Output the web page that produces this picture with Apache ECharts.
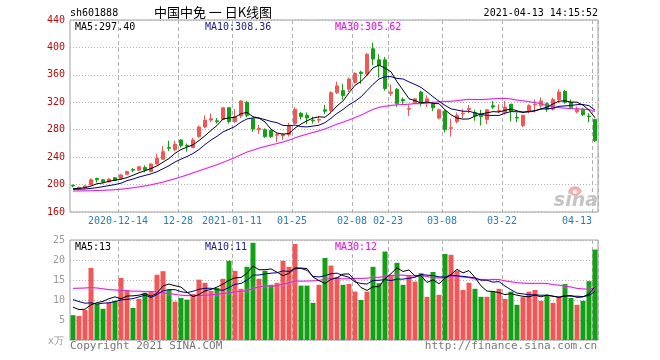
<!DOCTYPE html>
<html><head><meta charset="utf-8">
<script src="https://cdn.jsdelivr.net/npm/echarts@6/dist/echarts.min.js"></script>
<style>html,body{margin:0;padding:0;background:#fff}#c{width:660px;height:360px}</style>
</head><body><div id="c"></div>
<script>
const dates = ['2020-12-02','2020-12-03','2020-12-04','2020-12-07','2020-12-08','2020-12-09','2020-12-10','2020-12-11','2020-12-14','2020-12-15','2020-12-16','2020-12-17','2020-12-18','2020-12-21','2020-12-22','2020-12-23','2020-12-24','2020-12-25','2020-12-28','2020-12-29','2020-12-30','2020-12-31',
'2021-01-04','2021-01-05','2021-01-06','2021-01-07','2021-01-08','2021-01-11','2021-01-12','2021-01-13','2021-01-14','2021-01-15','2021-01-18','2021-01-19','2021-01-20','2021-01-21','2021-01-22','2021-01-25','2021-01-26','2021-01-27','2021-01-28','2021-01-29',
'2021-02-01','2021-02-02','2021-02-03','2021-02-04','2021-02-05','2021-02-08','2021-02-09','2021-02-10','2021-02-18','2021-02-19','2021-02-22','2021-02-23','2021-02-24','2021-02-25','2021-02-26',
'2021-03-01','2021-03-02','2021-03-03','2021-03-04','2021-03-05','2021-03-08','2021-03-09','2021-03-10','2021-03-11','2021-03-12','2021-03-15','2021-03-16','2021-03-17','2021-03-18','2021-03-19','2021-03-22','2021-03-23','2021-03-24','2021-03-25','2021-03-26','2021-03-29','2021-03-30','2021-03-31',
'2021-04-01','2021-04-02','2021-04-06','2021-04-07','2021-04-08','2021-04-09','2021-04-12','2021-04-13'];

const open = [199,194,196,200,209,207,204,210,209,215, 222,221,225,219,230,237,254,251,265,257, 254,270,284,294,293,295,312,292,300,320, 296,280,280,279,272,271,273,289,304,301, 294,294,309,308,334,337,339,349,364,361, 398,382,382,333,339,324,310,319,335,319, 318,297,307,282,292,303,309,305,301,295, 315,307,305,317,298,286,306,316,315,318, 310,324,336,320,306,310,300,295];
const close = [198,196,198,207,207,204,208,206,214,219, 221,226,221,230,238,248,253,259,257,256, 265,284,294,296,292,312,292,299,322,301, 281,282,270,270,273,273,286,310,299,297, 293,295,307,334,344,330,354,362,362,390, 383,374,340,335,318,322,311,325,319,325, 312,309,280,283,301,304,311,300,299,309, 313,308,313,307,297,301,315,317,322,310, 324,335,320,312,310,302,299,264];
const low = [196,193,194,199,203,202,203,205,207,214, 218,220,218,218,229,236,249,249,254,248, 253,268,282,291,289,294,289,290,297,298, 277,274,268,268,262,265,270,288,295,288, 289,290,303,305,332,324,335,347,347,359, 374,356,337,329,313,316,300,317,314,313, 307,295,276,270,289,297,304,293,286,288, 310,304,302,292,291,284,304,305,312,306, 308,319,318,310,304,300,291,262];
const high = [200,197,199,209,210,208,209,211,215,220, 224,227,228,231,245,256,264,264,266,260, 268,286,301,304,297,313,313,310,323,322, 297,287,282,280,275,275,290,313,306,305, 299,300,316,336,350,347,356,364,366,392, 407,390,386,346,341,327,317,326,337,330, 321,311,309,296,305,310,316,309,309,310, 322,317,322,318,305,302,317,324,327,320, 327,339,338,324,314,312,304,296];
const volume = [6.2,6.0,7.5,18.0,9.0,7.8,9.4,9.8,15.5,12.5, 8.0,10.3,11.8,12.2,16.3,17.2,12.5,9.6,10.5,10.1, 11.5,15.1,14.3,12.3,13.0,15.3,19.8,17.3,12.8,18.3, 24.3,15.3,17.3,13.8,14.3,19.8,18.3,24.0,13.6,13.6, 9.3,13.8,20.5,18.6,15.7,13.8,14.0,12.1,10.0,12.1, 18.3,14.2,22.1,16.3,19.3,13.8,16.1,14.6,16.7,10.8, 17.0,11.3,21.5,21.3,17.3,12.5,14.3,12.8,10.8,10.8, 12.1,12.8,10.3,12.1,8.8,10.7,12.1,12.5,9.8,11.1, 9.3,10.7,14.0,10.5,8.8,9.8,14.7,22.6];

const ma5 = [194,194.5,195.5,198,201.2,202.4,204.8,206.4,207.8,210.2, 213.6,217.2,220.2,223.4,227.2,232.6,238,245.6,251,254.6, 258,264.2,271.2,279,286.2,295.6,297.2,298.2,303.4,305.2, 299,297,291.2,280.8,275.2,273.6,274.4,282.4,288.2,293, 297,298.8,298.2,305.2,314.6,322,333.8,344.8,350.4,359.6, 370.2,374.2,369.8,364.4,350,337.8,325.2,322.2,319,320.4, 318.4,318,309,301.8,297,295.4,295.8,299.8,303,304.6, 306.4,305.8,308.4,310,307.6,305.2,306.6,307.4,310.4,313, 317.6,321.6,322.2,320.2,320.2,315.8,308.6,297.4];
const ma10 = [193,193.2,193.6,194.5,195.5,197,198.5,200,202,205.7, 208,211,213.3,215.6,218.7,223.1,227.6,232.9,237.2,240.9, 245.3,251.1,258.4,265,270.4,276.8,280.7,284.7,291.2,295.7, 297.3,297.1,294.7,292.1,290.2,286.3,285.7,286.8,284.5,284.1, 285.3,286.6,290.3,296.7,303.8,309.5,316.3,321.5,327.8,337.1, 346.1,354,357.3,357.4,354.8,354,349.7,346,341.7,335.2, 328.1,321.6,315.6,310.4,308.7,306.9,306.9,304.4,302.4,300.8, 300.9,300.8,304.1,306.5,306.1,305.8,306.2,307.9,310.2,310.3, 311.4,314.1,314.8,315.3,316.6,316.7,315.1,308.4];
const ma30 = [190.6,190.7,190.8,191,191.3,191.6,192,192.5,193.2,194.2, 195.3,196.6,198,199.7,201.6,203.7,206,208.5,211.2,214, 217,220,223,226,229,232.3,235.8,239.5,243.5,247.4, 250.2,253.1,255.5,257.6,259.8,262.1,264.7,268.1,271.0,273.6, 276.0,278.3,281.1,284.6,288.1,290.9,294.2,297.7,301.2,305.6, 309.6,312.6,314.1,315.4,316.3,316.6,317.2,318.1,318.0,318.8, 319.8,320.7,321.1,321.5,322.4,323.5,324.3,324.0,324.0,324.4, 325.0,325.5,325.7,324.8,323.2,322.2,320.9,319.4,318.1,315.4, 313.5,312.2,311.5,310.7,310.5,309.8,309.4,306.6];

const vma5 = [8.2,7.6,7.7,8.8,9.34,9.65,10.33,10.79,10.29,10.99, 11.04,11.21,11.6,10.94,11.7,13.54,13.99,13.56,13.22,11.98, 10.84,11.36,12.29,12.65,13.23,13.98,14.92,15.53,15.62,16.68, 18.48,17.57,17.57,17.77,16.96,16.07,16.68,18.02,17.99,17.86, 15.75,14.84,14.14,15.14,15.56,16.47,16.52,14.84,13.12,12.4, 13.3,13.34,15.34,16.6,18.04,17.13,17.51,16.01,16.09,14.39, 15.04,14.07,15.45,16.37,17.67,16.77,17.37,15.62,13.52,12.22, 12.14,11.84,11.34,11.6,11.2,10.92,10.79,11.24,10.78,11.24, 10.95,10.67,10.97,11.11,10.65,10.76,11.56,13.28];
const vma10 = [10.1,9.6,9.2,9.3,9.0,9.2,9.3,9.6,10.0,10.17, 10.35,10.77,11.2,10.62,11.35,12.29,12.6,12.58,12.08,11.84, 12.19,12.68,12.93,12.94,12.61,12.41,13.14,13.91,14.14,14.96, 16.23,16.25,16.55,16.7,16.82,17.28,17.13,17.8,17.88,17.41, 15.91,15.76,16.08,16.57,16.71,16.11,15.68,14.49,14.13,13.98, 14.89,14.93,15.09,14.86,15.22,15.22,15.43,15.68,16.35,16.22, 16.09,15.79,15.73,16.23,16.03,15.91,15.72,15.54,14.95,14.95, 14.46,14.61,13.48,12.56,11.71,11.53,11.32,11.29,11.19,11.22, 10.94,10.73,11.1,10.95,10.95,10.86,11.12,12.13];
const vma30 = [12.9,12.95,13.0,13.1,13.0,12.8,12.6,12.5,12.4,12.3, 12.2,12.2,12.1,12.1,12.0,11.8,11.6,11.4,11.2,11.1, 11.1,11.1,11.2,11.3,11.4,11.6,11.8,12.0,12.2,12.32, 12.92,13.23,13.56,13.42,13.59,13.99,14.29,14.76,14.7,14.74, 14.78,14.89,15.19,15.4,15.38,15.27,15.32,15.4,15.38,15.45, 15.68,15.65,15.91,16.04,16.25,16.2,16.08,15.99,16.12,15.87, 15.63,15.49,15.63,15.89,15.99,15.74,15.61,15.23,15.14,15.05, 15.14,15.11,14.77,14.55,14.32,14.22,14.15,14.17,14.16,14.13, 13.83,13.71,13.44,13.25,12.9,12.76,12.72,12.98];

const tickDates = ['2020-12-14','2020-12-28','2021-01-11','2021-01-25','2021-02-08','2021-02-23','2021-03-08','2021-03-22','2021-04-13'];
const tickLabels = ['2020-12-14','12-28','2021-01-11','01-25','02-08','02-23','03-08','03-22','04-13'];
const priceTicks = {min:160, max:440, step:40};
const volTicks = {min:0, max:25, step:5};

const RED = '#f05858', GREEN = '#14a014';
const MONO = '"DejaVu Sans Mono", "Liberation Mono", monospace';

const kData = dates.map((d,i)=>[open[i], close[i], low[i], high[i]]);
const vData = volume.map((v,i)=>({value:v, itemStyle:{color: close[i] >= open[i] ? RED : GREEN}}));
const isTick = (i, v) => tickDates.indexOf(v) >= 0;

const chart = echarts.init(document.getElementById('c'), null, {renderer:'canvas'});
const gridBorder = {show:true, borderColor:'#a0a0a0', borderWidth:1, backgroundColor:'#fff'};
const vSplit = {show:true, interval:isTick, lineStyle:{color:'#b0b0b0', type:[4,3], width:1}};
const hSplit = {show:true, lineStyle:{color:'#b0b0b0', type:[1,2], width:1}};

function txt(text, x, y, color, opts){
  return {type:'text', silent:true, z:100, style:Object.assign({text, x, y, fill:color, font:'10px '+MONO, align:'left', verticalAlign:'middle'}, opts||{})};
}

const option = {
  animation:false,
  backgroundColor:'#fff',
  grid:[
    Object.assign({left:70, top:20, width:528, height:192}, gridBorder),
    Object.assign({left:70, top:240, width:528, height:100}, gridBorder)
  ],
  xAxis:[
    {type:'category', gridIndex:0, data:dates, boundaryGap:true,
     axisLine:{show:false}, axisTick:{show:false}, splitLine:vSplit,
     axisLabel:{show:true, interval:isTick, margin:4, color:'#2a7db5', fontFamily:MONO, fontSize:10,
       formatter:(v)=>{const j=tickDates.indexOf(v); return (j===tickLabels.length-1?'{e|':'{n|')+tickLabels[j]+'}';},
       rich:{n:{padding:[0,6,0,0], color:'#2a7db5', fontFamily:MONO, fontSize:10},
             e:{padding:[0,36,0,0], color:'#2a7db5', fontFamily:MONO, fontSize:10}}}},
    {type:'category', gridIndex:1, data:dates, boundaryGap:true,
     axisLine:{show:false}, axisTick:{show:false}, axisLabel:{show:false}, splitLine:vSplit}
  ],
  yAxis:[
    {type:'value', gridIndex:0, min:priceTicks.min, max:priceTicks.max, interval:priceTicks.step,
     axisLine:{show:false}, axisTick:{show:false}, splitLine:hSplit,
     axisLabel:{margin:5, color:'#b01010', fontFamily:MONO, fontSize:10}},
    {type:'value', gridIndex:1, min:volTicks.min, max:volTicks.max, interval:volTicks.step,
     axisLine:{show:false}, axisTick:{show:false}, splitLine:hSplit,
     axisLabel:{margin:5, color:'#999', fontFamily:MONO, fontSize:10, formatter:(v)=> v===0?'':String(v)}}
  ],
  series:[
    {type:'candlestick', xAxisIndex:0, yAxisIndex:0, data:kData, barWidth:4,
     itemStyle:{color:RED, color0:GREEN, borderColor:RED, borderColor0:GREEN, borderWidth:1}},
    {type:'line', xAxisIndex:0, yAxisIndex:0, data:ma30, symbol:'none', silent:true,
     lineStyle:{color:'#c030c0', width:1, shadowColor:'rgba(255,150,255,0.9)', shadowBlur:3}},
    {type:'line', xAxisIndex:0, yAxisIndex:0, data:ma10, symbol:'none', silent:true,
     lineStyle:{color:'#000080', width:1}},
    {type:'line', xAxisIndex:0, yAxisIndex:0, data:ma5, symbol:'none', silent:true,
     lineStyle:{color:'#000', width:1}},
    {type:'bar', xAxisIndex:1, yAxisIndex:1, data:vData, barWidth:5},
    {type:'line', xAxisIndex:1, yAxisIndex:1, data:vma30, symbol:'none', silent:true,
     lineStyle:{color:'#c030c0', width:1, shadowColor:'rgba(255,150,255,0.9)', shadowBlur:3}},
    {type:'line', xAxisIndex:1, yAxisIndex:1, data:vma10, symbol:'none', silent:true,
     lineStyle:{color:'#000080', width:1}},
    {type:'line', xAxisIndex:1, yAxisIndex:1, data:vma5, symbol:'none', silent:true,
     lineStyle:{color:'#000', width:1}}
  ],
  graphic:[
    txt('sh601888', 70, 13, '#000'),
    txt('中国中免 一 日K线图', 213, 12, '#000', {align:'center', font:'13px "Noto Sans CJK SC"'}),
    txt('2021-04-13 14:15:52', 598, 13, '#000', {align:'right'}),
    txt('MA5:297.40', 75, 27, '#000'),
    txt('MA10:308.36', 205, 27, '#1a1a8a'),
    txt('MA30:305.62', 335, 27, '#c030c0', {textShadowColor:'rgba(255,160,255,0.9)', textShadowBlur:3}),
    txt('MA5:13', 75, 247, '#000'),
    txt('MA10:11', 205, 247, '#1a1a8a'),
    txt('MA30:12', 335, 247, '#c030c0', {textShadowColor:'rgba(255,160,255,0.9)', textShadowBlur:3}),
    txt('x万', 64, 341, '#999', {align:'right'}),
    txt('Copyright 2021 SINA.COM', 70, 346, '#777', {font:'11px '+MONO}),
    txt('http://finance.sina.com.cn', 597, 346, '#777', {align:'right', font:'11px '+MONO}),
    {type:'ellipse', silent:true, z:99, shape:{cx:575, cy:191, rx:6, ry:4}, style:{fill:'#f6b4b4', stroke:'#f09090', lineWidth:1}},
    {type:'circle', silent:true, z:99, shape:{cx:575, cy:192, r:2}, style:{fill:'#fff'}},
    txt('sina', 598, 201, '#c4c4c4', {align:'right', font:'italic bold 19px "DejaVu Sans"'})
  ]
};
chart.setOption(option);
</script></body></html>
